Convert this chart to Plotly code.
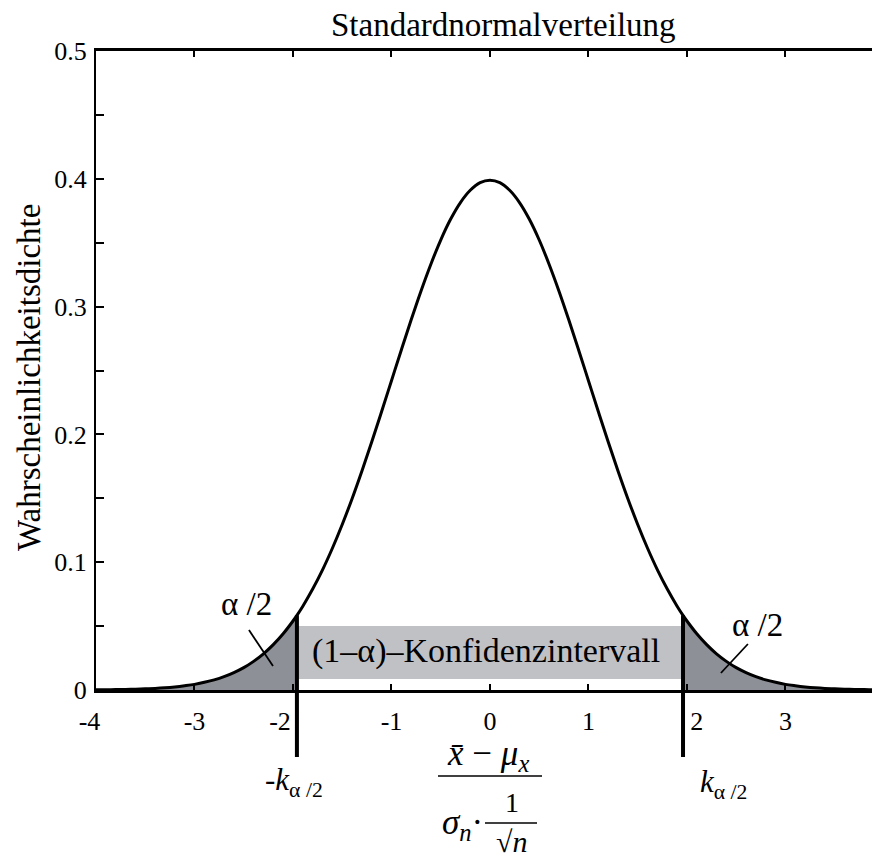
import plotly.graph_objects as go

# standard normal density
z_values = [-4.0, -3.9, -3.8, -3.7, -3.6, -3.5, -3.4, -3.3, -3.2, -3.1,
            -3.0, -2.9, -2.8, -2.7, -2.6, -2.5, -2.4, -2.3, -2.2, -2.1,
            -2.0, -1.96, -1.9, -1.8, -1.7, -1.6, -1.5, -1.4, -1.3, -1.2, -1.1,
            -1.0, -0.9, -0.8, -0.7, -0.6, -0.5, -0.4, -0.3, -0.2, -0.1,
            0.0, 0.1, 0.2, 0.3, 0.4, 0.5, 0.6, 0.7, 0.8, 0.9,
            1.0, 1.1, 1.2, 1.3, 1.4, 1.5, 1.6, 1.7, 1.8, 1.9, 1.96,
            2.0, 2.1, 2.2, 2.3, 2.4, 2.5, 2.6, 2.7, 2.8, 2.9,
            3.0, 3.1, 3.2, 3.3, 3.4, 3.5, 3.6, 3.7, 3.8, 3.9, 4.0]
density = [0.0001, 0.0002, 0.0003, 0.0004, 0.0006, 0.0009, 0.0012, 0.0017, 0.0024, 0.0033,
           0.0044, 0.0060, 0.0079, 0.0104, 0.0136, 0.0175, 0.0224, 0.0283, 0.0355, 0.0440,
           0.0540, 0.0584, 0.0656, 0.0790, 0.0940, 0.1109, 0.1295, 0.1497, 0.1714, 0.1942, 0.2179,
           0.2420, 0.2661, 0.2897, 0.3123, 0.3332, 0.3521, 0.3683, 0.3814, 0.3910, 0.3970,
           0.3989, 0.3970, 0.3910, 0.3814, 0.3683, 0.3521, 0.3332, 0.3123, 0.2897, 0.2661,
           0.2420, 0.2179, 0.1942, 0.1714, 0.1497, 0.1295, 0.1109, 0.0940, 0.0790, 0.0656, 0.0584,
           0.0540, 0.0440, 0.0355, 0.0283, 0.0224, 0.0175, 0.0136, 0.0104, 0.0079, 0.0060,
           0.0044, 0.0033, 0.0024, 0.0017, 0.0012, 0.0009, 0.0006, 0.0004, 0.0003, 0.0002, 0.0001]
k_alpha = 1.96
k_density = 0.0584
band_low, band_high = 0.0086, 0.050

NB = "\u00a0"
x_ticks = [-4, -3, -2, -1, 0, 1, 2, 3, 4]
# -4, -2 and 2 sit a little off their ticks in the original (clear of the lines)
x_ticktext = ["-4" + NB * 2, "-3", "-2" + NB * 4, "-1", "0", "1", NB * 3 + "2", "3", "4"]
y_ticks = [0, 0.1, 0.2, 0.3, 0.4, 0.5]
y_ticktext = ["0", "0.1", "0.2", "0.3", "0.4", "0.5"]

FONT = "Liberation Serif"
TAIL = "#8e9097"
BAND = "#c0c1c5"

# the page adds an 8px body margin, so layout is shifted by 8px
# plot area on the page: left 96, right 880, top 51, bottom 690
def px(x, y):
    return (x - 96) / 784, (690 - y) / 639

left = [(z, d) for z, d in zip(z_values, density) if z <= -k_alpha]
right = [(z, d) for z, d in zip(z_values, density) if z >= k_alpha]

fig = go.Figure()
for tail in (left, right):
    fig.add_trace(go.Scatter(
        x=[p[0] for p in tail], y=[p[1] for p in tail],
        mode="lines", line=dict(width=0, shape="spline"),
        fill="tozeroy", fillcolor=TAIL, showlegend=False, hoverinfo="skip"))

fig.add_trace(go.Scatter(
    x=z_values, y=density, mode="lines",
    line=dict(color="black", width=3, shape="spline"),
    showlegend=False))
# dummy trace so the right-hand tick axis gets drawn
fig.add_trace(go.Scatter(x=[0], y=[None], yaxis="y2", showlegend=False, hoverinfo="skip"))

# confidence band
fig.add_shape(type="rect", x0=-k_alpha, x1=k_alpha, y0=band_low, y1=band_high,
              xref="x", yref="y", fillcolor=BAND, line_width=0, layer="below")

# k lines, reaching below the axis
for s in (-1, 1):
    fig.add_shape(type="line", xref="x", yref="paper", x0=s * k_alpha, x1=s * k_alpha,
                  y0=-0.105, y1=k_density / 0.5, line=dict(color="black", width=4))

# leader lines for alpha/2
fig.add_shape(type="line", xref="x", yref="y", x0=-2.447, y0=0.0469, x1=-2.203, y1=0.0188,
              line=dict(color="black", width=1.8))
fig.add_shape(type="line", xref="x", yref="y", x0=2.619, y0=0.036, x1=2.345, y1=0.0133,
              line=dict(color="black", width=1.8))

def note(text, x, y, size, **kw):
    ax, ay = px(x, y)
    fig.add_annotation(text=text, x=ax, y=ay, xref="paper", yref="paper", showarrow=False,
                       font=dict(family=FONT, size=size, color="black"),
                       xanchor="center", yanchor="middle", borderpad=0, **kw)

note("Standardnormalverteilung", 503, 25, 33)
note("Wahrscheinlichkeitsdichte", 29, 378, 33, textangle=-90)
note("(1\u2013\u03b1)\u2013Konfidenzintervall", 486, 651, 34)
note("\u03b1 /2", 246, 604, 33)
note("\u03b1 /2", 757, 625, 33)
note("-<i>k</i><sub>\u03b1 /2</sub>", 294, 782, 31)
note("<i>k</i><sub>\u03b1 /2</sub>", 723, 784, 31)

# x-axis label: (x̄ - μx) / (σn · 1/√n)
note("<i>x\u0304</i> \u2212 <i>\u03bc</i><sub><i>x</i></sub>", 488, 755, 35)
note("<i>\u03c3</i><sub><i>n</i></sub>\u00b7", 462, 824, 35)
note("1", 512, 802, 28)
note("\u221a<i>n</i>", 511, 842, 30)
for (xa, xb, yy) in ((438, 542, 776), (485, 537, 823)):
    x0, y0 = px(xa, yy)
    x1, _ = px(xb, yy)
    fig.add_shape(type="line", xref="paper", yref="paper", x0=x0, x1=x1, y0=y0, y1=y0,
                  line=dict(color="black", width=1.6))

axis_font = dict(family=FONT, size=26, color="black")
fig.update_layout(
    width=872, height=854,
    margin=dict(l=88, r=0, t=43, b=172),
    paper_bgcolor="white", plot_bgcolor="white",
    font=dict(family=FONT, color="black"),
    xaxis=dict(range=[-4, 3.96], tickvals=x_ticks, ticktext=x_ticktext, ticks="inside",
               ticklen=6, tickwidth=1.5, tickcolor="black", showline=True, linewidth=2.5,
               linecolor="black", mirror="ticks", showgrid=False, zeroline=False,
               tickfont=axis_font, ticklabelstandoff=6),
    yaxis=dict(range=[0, 0.5], tickvals=y_ticks, ticktext=y_ticktext, ticks="inside",
               ticklen=8, tickwidth=1.5, tickcolor="black", showline=True, linewidth=2,
               linecolor="black", showgrid=False, zeroline=False, tickfont=axis_font,
               ticklabelstandoff=2,
               minor=dict(dtick=0.05, tick0=0, ticks="inside", ticklen=8, tickwidth=1.5,
                          tickcolor="black", showgrid=False)),
    yaxis2=dict(range=[0, 0.5], overlaying="y", side="right", ticks="inside", ticklen=6,
                tickwidth=1.5, tickcolor="black", tick0=0, dtick=0.05,
                showticklabels=False, showline=False, showgrid=False, zeroline=False),
)

fig.write_html("out.html")
